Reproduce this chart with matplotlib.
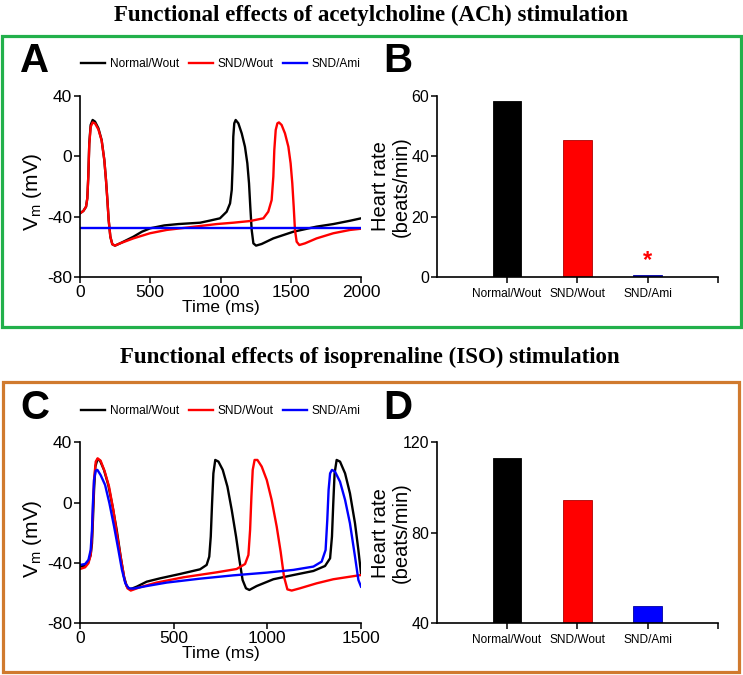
import matplotlib
matplotlib.use("Agg")
import matplotlib.pyplot as plt
from matplotlib.patches import Rectangle

plt.rcParams['font.family'] = ['Liberation Sans', 'DejaVu Sans']
plt.rcParams['axes.unicode_minus'] = False

# ---------------- DATA ----------------
series_names = ["Normal/Wout", "SND/Wout", "SND/Ami"]
series_colors = ["#000000", "#FF0000", "#0000FF"]

# Panel A (ACh) traces: time (ms), Vm (mV)
A_norm_t = [0, 24, 43, 52, 59, 66, 76, 90, 107, 131, 154, 173, 185, 195, 204, 216, 230, 249, 285,
            380, 440, 500, 600, 700, 855, 920, 996, 1044, 1068, 1080, 1087, 1091, 1098, 1108, 1127,
            1151, 1174, 1191, 1203, 1212, 1222, 1234, 1253, 1293, 1376, 1518, 1684, 1803, 1922, 2000]
A_norm_v = [-37.8, -36.2, -33.4, -27.8, -13.5, 8.6, 20.8, 24.1, 23.0, 18.6, 10.8, -2.4, -15.7, -29.0,
            -42.2, -53.3, -58.3, -59.2, -57.7, -53.3, -50.0, -47.7, -45.8, -44.9, -44.0, -42.7, -41.1,
            -36.7, -31.2, -22.3, -4.6, 13.0, 21.9, 24.1, 21.9, 15.2, 6.4, -4.6, -17.9, -33.4, -48.8,
            -57.7, -59.2, -58.1, -54.4, -50.0, -46.6, -44.9, -42.7, -41.1]

A_snd_t = [0, 24, 43, 52, 59, 66, 76, 90, 107, 131, 154, 173, 185, 195, 204, 216, 230, 249, 285,
           380, 498, 617, 854, 973, 1091, 1210, 1305, 1340, 1364, 1376, 1383, 1393, 1405, 1416, 1435,
           1459, 1483, 1499, 1511, 1521, 1530, 1542, 1561, 1601, 1684, 1803, 1922, 2000]
A_snd_v = [-37.8, -36.2, -33.4, -27.8, -13.5, 8.0, 19.5, 22.5, 21.8, 17.8, 10.5, -2.4, -15.7, -29.0,
           -42.2, -53.3, -58.3, -59.2, -57.7, -54.4, -51.0, -48.8, -46.2, -44.9, -44.0, -42.9, -41.1,
           -36.7, -29.0, -13.5, 4.2, 17.5, 21.9, 22.5, 20.8, 15.2, 6.4, -4.6, -17.9, -33.4, -48.8,
           -56.6, -58.8, -57.7, -54.4, -51.0, -48.8, -48.0]

A_ami_t = [0, 2000]
A_ami_v = [-47.3, -47.3]

# Panel C (ISO) traces
C_norm_t = [0, 27, 45, 57, 64, 69, 75, 82, 93, 107, 128, 151, 174, 196, 217, 235, 249, 267, 303, 356,
            427, 534, 641, 676, 690, 698, 705, 712, 722, 739, 762, 787, 810, 833, 851, 868, 886, 904,
            943, 1032, 1139, 1246, 1308, 1335, 1345, 1352, 1359, 1370, 1388, 1415, 1441, 1468, 1486, 1500]
C_norm_v = [-42.4, -41.8, -39.1, -34.7, -27.0, -11.5, 8.4, 23.9, 28.7, 27.8, 21.7, 11.7, -2.7, -18.1,
            -35.8, -49.1, -55.3, -57.5, -55.7, -52.4, -50.2, -47.3, -44.2, -41.3, -35.8, -22.5, -0.4,
            19.4, 28.3, 27.2, 21.7, 10.6, -4.9, -22.5, -38.0, -51.3, -56.8, -57.9, -55.3, -50.8, -48.0,
            -45.3, -42.0, -36.9, -22.5, -0.4, 19.4, 28.3, 27.2, 19.4, 6.2, -13.7, -31.4, -46.9]

C_snd_t = [0, 27, 45, 57, 64, 69, 75, 84, 94, 110, 132, 155, 178, 199, 221, 238, 253, 271, 320, 409,
           552, 730, 836, 881, 899, 908, 915, 922, 932, 947, 970, 997, 1023, 1050, 1071, 1089, 1107,
           1130, 1174, 1263, 1352, 1441, 1500]
C_snd_v = [-44.0, -42.9, -40.2, -34.7, -22.5, -4.9, 15.0, 27.2, 29.4, 27.8, 20.6, 10.6, -4.9, -22.5,
           -39.1, -51.3, -56.8, -58.3, -56.1, -53.0, -49.5, -46.2, -44.0, -40.7, -34.7, -18.1, 4.0,
           21.7, 28.3, 28.3, 23.9, 15.0, 1.8, -15.9, -32.5, -49.1, -57.5, -58.3, -56.8, -53.5, -50.8,
           -49.1, -48.0]

C_ami_t = [0, 27, 45, 57, 64, 69, 75, 84, 93, 110, 134, 157, 182, 205, 224, 242, 260, 285, 356, 463,
           641, 819, 997, 1139, 1246, 1290, 1311, 1320, 1327, 1335, 1345, 1361, 1388, 1415, 1441, 1468,
           1486, 1500]
C_ami_v = [-41.3, -40.7, -38.0, -31.4, -18.1, -0.4, 15.0, 21.2, 21.7, 18.3, 11.7, -0.4, -15.9, -31.4,
           -44.6, -53.5, -56.8, -57.0, -55.3, -53.0, -50.4, -48.2, -46.4, -44.6, -42.4, -39.1, -31.4,
           -11.5, 8.4, 19.4, 21.7, 20.6, 13.9, 1.8, -13.7, -35.8, -51.3, -55.7]

# Heart rates (beats/min)
B_rates = [58.4, 45.3, 0.8]
D_rates = [112.9, 94.5, 47.6]

A_xticks = [0, 500, 1000, 1500, 2000]
C_xticks = [0, 500, 1000, 1500]
V_yticks = [-80, -40, 0, 40]
B_yticks = [0, 20, 40, 60]
D_yticks = [40, 80, 120]

title_top = "Functional effects of acetylcholine (ACh) stimulation"
title_bottom = "Functional effects of isoprenaline (ISO) stimulation"

# ---------------- FIGURE ----------------
W, H = 743, 675
fig = plt.figure(figsize=(W / 100, H / 100), dpi=100)


def fx(px):
    return px / W


def fy(py):
    return 1 - py / H


# frames
fig.patches.append(Rectangle((fx(2), fy(327)), fx(739), 291 / H, transform=fig.transFigure,
                             fill=False, edgecolor="#22B04B", lw=2.3, zorder=0))
fig.patches.append(Rectangle((fx(3), fy(672)), fx(736), 290 / H, transform=fig.transFigure,
                             fill=False, edgecolor="#D07A2E", lw=2.3, zorder=0))

fig.text(fx(371), fy(15), title_top, ha="center", va="center", fontsize=16.5,
         fontweight="bold", family=["Liberation Serif", "DejaVu Serif"])
fig.text(fx(370), fy(357), title_bottom, ha="center", va="center", fontsize=16.5,
         fontweight="bold", family=["Liberation Serif", "DejaVu Serif"])

for lab, x, y in [("A", 20, 61), ("B", 383, 61), ("C", 20, 408), ("D", 383, 408)]:
    fig.text(fx(x), fy(y), lab, ha="left", va="center", fontsize=29, fontweight="bold")

axw = (361 - 80) / W
axh = (277 - 96) / H
axA = fig.add_axes([fx(80), fy(277), axw, axh])
axB = fig.add_axes([fx(436.7), fy(277), (718 - 436.7) / W, axh])
axC = fig.add_axes([fx(80), fy(623.3), axw, (623.3 - 442.3) / H])
axD = fig.add_axes([fx(436.7), fy(623.3), (718 - 436.7) / W, (623.3 - 442.3) / H])


def style(ax, lsize):
    for s in ["top", "right"]:
        ax.spines[s].set_visible(False)
    for s in ["left", "bottom"]:
        ax.spines[s].set_linewidth(1.2)
    ax.tick_params(direction="out", length=4, width=1.1, labelsize=lsize, pad=1.5)


def trace_panel(ax, traces, xticks, xmax, legend_y):
    for (t, v), c, n in zip(traces, series_colors, series_names):
        ax.plot(t, v, color=c, lw=1.7, label=n, solid_joinstyle="round")
    ax.set_xlim(0, xmax)
    ax.set_ylim(-80, 40)
    ax.set_xticks(xticks)
    ax.set_yticks(V_yticks)
    style(ax, 12.5)
    ax.set_xlabel("Time (ms)", fontsize=12.5, labelpad=0)
    ax.set_ylabel(r"V$_\mathregular{m}$ (mV)", fontsize=15)
    ax.yaxis.set_label_coords(-0.128, 0.47)
    ax.legend(loc="center", bbox_to_anchor=(fx(221), fy(legend_y)),
              bbox_transform=fig.transFigure, ncol=3, frameon=False, fontsize=8.6,
              handlelength=2.0, handletextpad=0.4, columnspacing=0.8, borderpad=0)


trace_panel(axA, [(A_norm_t, A_norm_v), (A_snd_t, A_snd_v), (A_ami_t, A_ami_v)],
            A_xticks, 2000, 64)
trace_panel(axC, [(C_norm_t, C_norm_v), (C_snd_t, C_snd_v), (C_ami_t, C_ami_v)],
            C_xticks, 1500, 411.5)


def bar_panel(ax, rates, yticks, ylim):
    pos = [1, 2, 3]
    ax.bar(pos, rates, width=0.41, color=series_colors, edgecolor=["#000000", "#B00000", "#0000A0"],
           lw=0.6, zorder=2)
    ax.set_xlim(0, 4)
    ax.set_ylim(*ylim)
    ax.set_yticks(yticks)
    ax.set_xticks([1, 2, 3, 4])
    ax.set_xticklabels(series_names + [""], fontsize=8.6)
    style(ax, 11.5)
    ax.tick_params(axis="x", labelsize=8.6, pad=4)
    ax.set_ylabel("Heart rate\n(beats/min)", fontsize=14.5, linespacing=1.1)
    ax.yaxis.set_label_coords(-0.093, 0.5)


bar_panel(axB, B_rates, B_yticks, (0, 60))
bar_panel(axD, D_rates, D_yticks, (40, 120))
axB.text(3, B_rates[2] + 1.0, "*", color="#FF0000", ha="center", va="bottom",
         fontsize=17, fontweight="bold")

fig.savefig("out.png", dpi=100)
